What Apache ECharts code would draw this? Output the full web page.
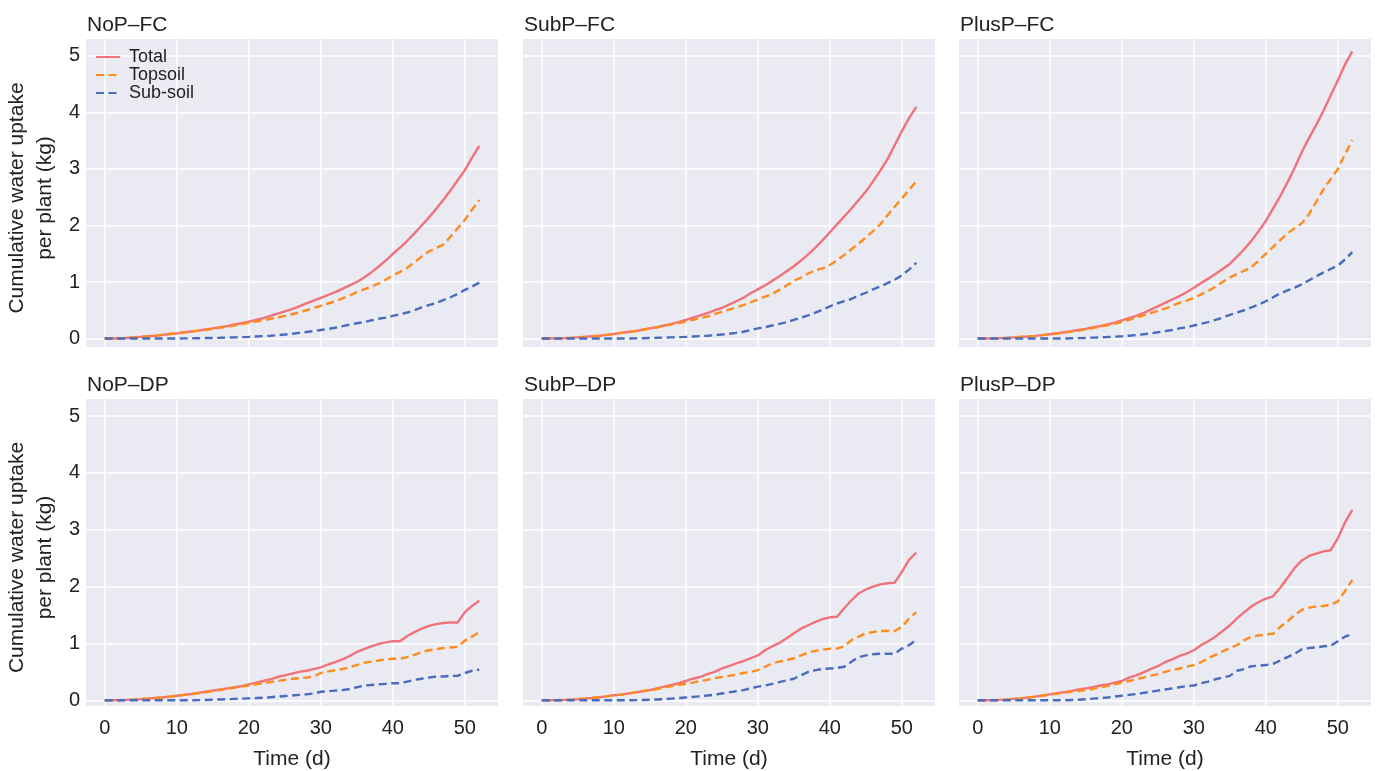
<!DOCTYPE html>
<html>
<head>
<meta charset="utf-8">
<title>Cumulative water uptake per plant</title>
<script src="https://cdn.jsdelivr.net/npm/echarts@6.0.0/dist/echarts.min.js"></script>
<style>
  html, body { margin: 0; padding: 0; background: #fff; }
  #chart { width: 1379px; height: 771px; }
</style>
</head>
<body>
<div id="chart"></div>
<script>
// time axis (days)
const DAYS = [0, 1, 2, 3, 4, 5, 6, 7, 8, 9, 10, 11, 12, 13, 14, 15, 16, 17, 18, 19,
  20, 21, 22, 23, 24, 25, 26, 27, 28, 29, 30, 31, 32, 33, 34, 35, 36, 37, 38, 39,
  40, 41, 42, 43, 44, 45, 46, 47, 48, 49, 50, 51, 52]
const X_TICKS = [0, 10, 20, 30, 40, 50]
const Y_TICKS = [0, 1, 2, 3, 4, 5]
const SERIES_NAMES = ['Total', 'Topsoil', 'Sub-soil']
const PANEL_TITLES = ['NoP–FC', 'SubP–FC', 'PlusP–FC', 'NoP–DP', 'SubP–DP', 'PlusP–DP']

// NoP-FC
const NOP_FC_TOTAL = [0, 0, 0.005, 0.01, 0.02, 0.03, 0.04, 0.05, 0.065, 0.08,
  0.09, 0.11, 0.125, 0.14, 0.16, 0.18, 0.2, 0.22, 0.25, 0.27,
  0.3, 0.33, 0.36, 0.4, 0.44, 0.48, 0.52, 0.57, 0.62, 0.67,
  0.72, 0.77, 0.82, 0.88, 0.94, 1.0, 1.08, 1.17, 1.27, 1.38,
  1.5, 1.61, 1.73, 1.86, 2.0, 2.14, 2.29, 2.45, 2.62, 2.8,
  2.98, 3.2, 3.41]
const NOP_FC_TOP = [0, 0, 0.005, 0.01, 0.02, 0.03, 0.04, 0.05, 0.065, 0.08,
  0.09, 0.105, 0.12, 0.14, 0.155, 0.17, 0.19, 0.21, 0.23, 0.255,
  0.28, 0.3, 0.32, 0.35, 0.37, 0.4, 0.43, 0.46, 0.5, 0.54,
  0.58, 0.62, 0.66, 0.71, 0.76, 0.82, 0.87, 0.92, 0.97, 1.04,
  1.12, 1.18, 1.25, 1.35, 1.45, 1.54, 1.6, 1.66, 1.8, 1.95,
  2.1, 2.28, 2.45]
const NOP_FC_SUB = [0, 0, 0, 0, 0, 0, 0, 0, 0, 0,
  0, 0.002, 0.004, 0.006, 0.008, 0.01, 0.013, 0.017, 0.021, 0.025,
  0.03, 0.036, 0.043, 0.05, 0.06, 0.07, 0.085, 0.1, 0.115, 0.13,
  0.15, 0.17, 0.19, 0.22, 0.245, 0.27, 0.29, 0.32, 0.35, 0.37,
  0.4, 0.43, 0.46, 0.5, 0.55, 0.59, 0.63, 0.68, 0.73, 0.79,
  0.86, 0.92, 0.99]

// SubP-FC
const SUBP_FC_TOTAL = [0, 0, 0.003, 0.007, 0.012, 0.02, 0.03, 0.04, 0.05, 0.065,
  0.08, 0.1, 0.115, 0.13, 0.155, 0.18, 0.2, 0.23, 0.26, 0.29,
  0.33, 0.37, 0.41, 0.45, 0.5, 0.54, 0.6, 0.66, 0.72, 0.8,
  0.87, 0.94, 1.02, 1.1, 1.19, 1.28, 1.38, 1.49, 1.61, 1.74,
  1.88, 2.02, 2.16, 2.3, 2.45, 2.6, 2.78, 2.97, 3.17, 3.42,
  3.67, 3.9, 4.1]
const SUBP_FC_TOP = [0, 0, 0.003, 0.007, 0.012, 0.02, 0.03, 0.04, 0.05, 0.065,
  0.08, 0.1, 0.115, 0.13, 0.155, 0.175, 0.2, 0.22, 0.25, 0.27,
  0.3, 0.33, 0.36, 0.39, 0.43, 0.47, 0.51, 0.55, 0.59, 0.64,
  0.69, 0.74, 0.79, 0.86, 0.94, 1.02, 1.08, 1.15, 1.21, 1.24,
  1.3, 1.38, 1.48, 1.58, 1.68, 1.79, 1.9, 2.02, 2.18, 2.33,
  2.48, 2.63, 2.78]
const SUBP_FC_SUB = [0, 0, 0, 0, 0, 0, 0, 0, 0, 0,
  0, 0, 0, 0.003, 0.006, 0.01, 0.013, 0.017, 0.021, 0.025,
  0.03, 0.036, 0.043, 0.05, 0.06, 0.07, 0.085, 0.1, 0.12, 0.15,
  0.18, 0.2, 0.23, 0.26, 0.29, 0.33, 0.37, 0.41, 0.46, 0.51,
  0.57, 0.62, 0.66, 0.7, 0.76, 0.81, 0.87, 0.92, 0.98, 1.04,
  1.12, 1.22, 1.34]

// PlusP-FC
const PLUSP_FC_TOTAL = [0, 0, 0.003, 0.007, 0.012, 0.02, 0.028, 0.036, 0.047, 0.06,
  0.075, 0.09, 0.11, 0.13, 0.15, 0.17, 0.2, 0.22, 0.25, 0.28,
  0.32, 0.36, 0.4, 0.45, 0.51, 0.57, 0.63, 0.69, 0.75, 0.82,
  0.9, 0.98, 1.06, 1.14, 1.23, 1.32, 1.45, 1.58, 1.73, 1.9,
  2.08, 2.3, 2.52, 2.76, 3.02, 3.3, 3.55, 3.78, 4.03, 4.3,
  4.57, 4.85, 5.08]
const PLUSP_FC_TOP = [0, 0, 0.003, 0.007, 0.012, 0.02, 0.028, 0.036, 0.047, 0.06,
  0.075, 0.09, 0.105, 0.125, 0.14, 0.16, 0.185, 0.21, 0.235, 0.26,
  0.29, 0.33, 0.37, 0.41, 0.45, 0.49, 0.53, 0.58, 0.63, 0.67,
  0.72, 0.78, 0.84, 0.92, 1.0, 1.08, 1.14, 1.2, 1.26, 1.38,
  1.5, 1.62, 1.74, 1.86, 1.95, 2.04, 2.2, 2.42, 2.64, 2.82,
  3.0, 3.26, 3.51]
const PLUSP_FC_SUB = [0, 0, 0, 0, 0, 0, 0, 0, 0, 0,
  0, 0, 0, 0.004, 0.007, 0.01, 0.015, 0.02, 0.026, 0.033,
  0.04, 0.05, 0.06, 0.075, 0.09, 0.11, 0.13, 0.15, 0.18, 0.2,
  0.23, 0.26, 0.29, 0.33, 0.37, 0.42, 0.46, 0.5, 0.55, 0.6,
  0.66, 0.73, 0.8, 0.85, 0.9, 0.96, 1.03, 1.1, 1.17, 1.23,
  1.29, 1.4, 1.53]

// NoP-DP
const NOP_DP_TOTAL = [0, 0, 0.003, 0.007, 0.012, 0.02, 0.03, 0.04, 0.05, 0.065,
  0.08, 0.095, 0.11, 0.13, 0.15, 0.17, 0.19, 0.21, 0.23, 0.25,
  0.28, 0.31, 0.34, 0.37, 0.41, 0.44, 0.47, 0.5, 0.52, 0.55,
  0.58, 0.63, 0.67, 0.72, 0.78, 0.85, 0.9, 0.95, 0.99, 1.02,
  1.04, 1.04, 1.13, 1.2, 1.26, 1.31, 1.34, 1.36, 1.37, 1.37,
  1.55, 1.66, 1.75]
const NOP_DP_TOP = [0, 0, 0.003, 0.007, 0.012, 0.02, 0.03, 0.04, 0.05, 0.065,
  0.08, 0.095, 0.11, 0.125, 0.14, 0.16, 0.18, 0.2, 0.22, 0.24,
  0.26, 0.28, 0.3, 0.32, 0.34, 0.36, 0.38, 0.39, 0.4, 0.42,
  0.48, 0.51, 0.53, 0.55, 0.58, 0.62, 0.66, 0.68, 0.7, 0.72,
  0.73, 0.73, 0.76, 0.8, 0.85, 0.88, 0.9, 0.92, 0.93, 0.94,
  1.05, 1.12, 1.2]
const NOP_DP_SUB = [0, 0, 0, 0, 0, 0, 0, 0, 0, 0,
  0, 0, 0, 0.003, 0.006, 0.01, 0.015, 0.02, 0.025, 0.03,
  0.035, 0.04, 0.045, 0.055, 0.065, 0.075, 0.085, 0.095, 0.105, 0.12,
  0.15, 0.16, 0.17, 0.18, 0.2, 0.23, 0.26, 0.27, 0.28, 0.29,
  0.3, 0.3, 0.33, 0.36, 0.38, 0.4, 0.42, 0.42, 0.43, 0.43,
  0.48, 0.52, 0.54]

// SubP-DP
const SUBP_DP_TOTAL = [0, 0, 0.003, 0.007, 0.012, 0.02, 0.03, 0.04, 0.055, 0.07,
  0.09, 0.1, 0.12, 0.14, 0.16, 0.18, 0.21, 0.24, 0.27, 0.3,
  0.34, 0.38, 0.41, 0.46, 0.5, 0.56, 0.6, 0.65, 0.69, 0.74,
  0.79, 0.88, 0.95, 1.01, 1.09, 1.18, 1.26, 1.32, 1.38, 1.43,
  1.46, 1.47, 1.62, 1.76, 1.88, 1.95, 2.0, 2.04, 2.06, 2.07,
  2.26, 2.47, 2.6]
const SUBP_DP_TOP = [0, 0, 0.003, 0.007, 0.012, 0.02, 0.03, 0.04, 0.055, 0.07,
  0.09, 0.1, 0.12, 0.14, 0.16, 0.18, 0.2, 0.22, 0.25, 0.27,
  0.29, 0.31, 0.34, 0.36, 0.39, 0.41, 0.43, 0.45, 0.48, 0.5,
  0.53, 0.59, 0.65, 0.68, 0.71, 0.74, 0.79, 0.84, 0.87, 0.89,
  0.91, 0.91, 0.95, 1.06, 1.12, 1.18, 1.2, 1.22, 1.22, 1.22,
  1.29, 1.44, 1.55]
const SUBP_DP_SUB = [0, 0, 0, 0, 0, 0, 0, 0, 0, 0,
  0, 0, 0, 0.003, 0.006, 0.01, 0.015, 0.02, 0.03, 0.04,
  0.05, 0.06, 0.07, 0.085, 0.1, 0.12, 0.14, 0.16, 0.18, 0.21,
  0.24, 0.26, 0.29, 0.32, 0.35, 0.38, 0.44, 0.5, 0.53, 0.55,
  0.56, 0.57, 0.59, 0.68, 0.76, 0.79, 0.81, 0.82, 0.82, 0.82,
  0.91, 0.97, 1.06]

// PlusP-DP
const PLUSP_DP_TOTAL = [0, 0, 0.003, 0.007, 0.012, 0.025, 0.035, 0.05, 0.065, 0.085,
  0.105, 0.125, 0.145, 0.165, 0.19, 0.21, 0.23, 0.26, 0.28, 0.31,
  0.34, 0.4, 0.44, 0.49, 0.55, 0.6, 0.67, 0.72, 0.78, 0.82,
  0.88, 0.97, 1.04, 1.12, 1.22, 1.32, 1.44, 1.55, 1.65, 1.73,
  1.79, 1.83, 1.98, 2.15, 2.33, 2.46, 2.54, 2.58, 2.62, 2.64,
  2.85, 3.13, 3.35]
const PLUSP_DP_TOP = [0, 0, 0.003, 0.007, 0.012, 0.025, 0.035, 0.05, 0.065, 0.08,
  0.1, 0.115, 0.13, 0.15, 0.165, 0.18, 0.2, 0.23, 0.25, 0.28,
  0.31, 0.34, 0.37, 0.4, 0.43, 0.46, 0.5, 0.53, 0.56, 0.59,
  0.62, 0.67, 0.74, 0.8, 0.86, 0.92, 0.97, 1.06, 1.12, 1.14,
  1.16, 1.17, 1.29, 1.39, 1.5, 1.59, 1.63, 1.65, 1.66, 1.68,
  1.74, 1.92, 2.12]
const PLUSP_DP_SUB = [0, 0, 0, 0, 0, 0, 0, 0, 0, 0,
  0, 0, 0, 0.005, 0.01, 0.02, 0.03, 0.04, 0.05, 0.065,
  0.08, 0.095, 0.11, 0.13, 0.15, 0.17, 0.19, 0.21, 0.23, 0.25,
  0.26, 0.3, 0.33, 0.37, 0.4, 0.43, 0.52, 0.55, 0.6, 0.61,
  0.62, 0.64, 0.7, 0.76, 0.82, 0.9, 0.92, 0.93, 0.95, 0.96,
  1.04, 1.12, 1.17]

const PANEL_DATA = [
  [NOP_FC_TOTAL, NOP_FC_TOP, NOP_FC_SUB],
  [SUBP_FC_TOTAL, SUBP_FC_TOP, SUBP_FC_SUB],
  [PLUSP_FC_TOTAL, PLUSP_FC_TOP, PLUSP_FC_SUB],
  [NOP_DP_TOTAL, NOP_DP_TOP, NOP_DP_SUB],
  [SUBP_DP_TOTAL, SUBP_DP_TOP, SUBP_DP_SUB],
  [PLUSP_DP_TOTAL, PLUSP_DP_TOP, PLUSP_DP_SUB]
]

// 样式
const COLORS = ['#f0727a', '#ff8c1a', '#4a6cbd']
const DASHED = [false, true, true]
const FONT = "'Liberation Sans', Arial, sans-serif"
const TEXT_COLOR = '#222'

// 子图布局（像素）
const COL_LEFT = [86, 523, 959]
const ROW_TOP = [39, 399]
const PLOT_W = 412
const PLOT_H = 308

const grid = []
const xAxis = []
const yAxis = []
const title = []
const series = []

PANEL_TITLES.forEach(function (name, i) {
  const row = Math.floor(i / 3)
  const col = i % 3
  grid.push({
    left: COL_LEFT[col], top: ROW_TOP[row], width: PLOT_W, height: PLOT_H,
    show: true, backgroundColor: '#eaeaf2', borderWidth: 0
  })
  title.push({
    text: name, left: COL_LEFT[col] - 4, top: ROW_TOP[row] - 29,
    textStyle: { fontFamily: FONT, fontSize: 21, fontWeight: 'normal', color: TEXT_COLOR }
  })
  xAxis.push({
    gridIndex: i, type: 'value', min: -2.6, max: 54.6,
    axisLine: { show: false },
    axisTick: { show: false, customValues: X_TICKS },
    axisLabel: {
      show: row === 1, customValues: X_TICKS, margin: 12,
      fontFamily: FONT, fontSize: 20, color: TEXT_COLOR
    },
    splitLine: { show: true, lineStyle: { color: '#fff', width: 1.5 } },
    name: row === 1 ? 'Time (d)' : '',
    nameLocation: 'middle', nameGap: 43,
    nameTextStyle: { fontFamily: FONT, fontSize: 21, color: TEXT_COLOR }
  })
  yAxis.push({
    gridIndex: i, type: 'value', min: row === 0 ? -0.15 : -0.1, max: 5.3,
    axisLine: { show: false },
    axisTick: { show: false, customValues: Y_TICKS },
    axisLabel: {
      show: col === 0, customValues: Y_TICKS, margin: 6,
      fontFamily: FONT, fontSize: 20, color: TEXT_COLOR
    },
    splitLine: { show: true, lineStyle: { color: '#fff', width: 1.5 } },
    name: col === 0 ? 'Cumulative water uptake\nper plant (kg)' : '',
    nameLocation: 'middle', nameGap: 27, nameRotate: 90,
    nameTextStyle: {
      fontFamily: FONT, fontSize: 21, color: TEXT_COLOR, lineHeight: 28,
      padding: [0, 10, 0, 0]
    }
  })
  PANEL_DATA[i].forEach(function (vals, k) {
    series.push({
      name: SERIES_NAMES[k], type: 'line',
      xAxisIndex: i, yAxisIndex: i,
      data: DAYS.map(function (d, j) { return [d, vals[j]] }),
      symbol: 'none',
      lineStyle: { color: COLORS[k], width: 2.4, type: DASHED[k] ? [8, 4.5] : 'solid' },
      itemStyle: { color: COLORS[k] },
      z: 2 + k
    })
  })
})

const chart = echarts.init(document.getElementById('chart'))
chart.setOption({
  animation: false,
  backgroundColor: '#fff',
  title,
  legend: {
    data: SERIES_NAMES, orient: 'vertical', left: 90, top: 43,
    itemWidth: 24, itemHeight: 10, itemGap: 0,
    itemStyle: { opacity: 0 },
    textStyle: {
      fontFamily: FONT, fontSize: 18, color: TEXT_COLOR, lineHeight: 17,
      padding: [0, 0, 0, 4]
    }
  },
  grid,
  xAxis,
  yAxis,
  series
})
</script>
</body>
</html>
